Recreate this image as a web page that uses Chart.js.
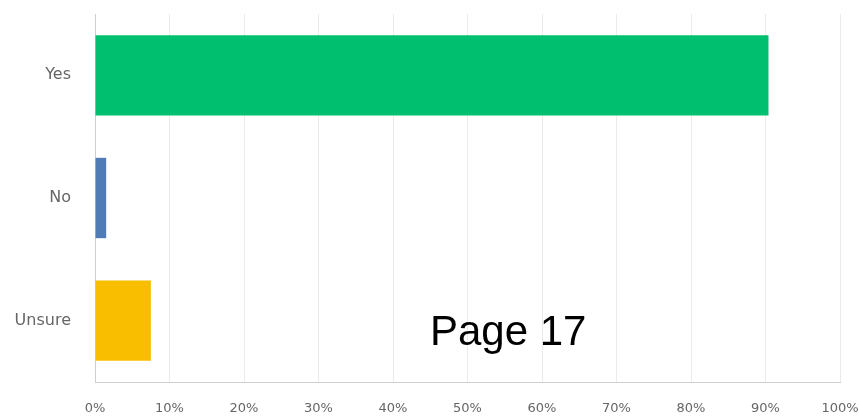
<!DOCTYPE html>
<html>
<head>
<meta charset="utf-8">
<script src="https://cdn.jsdelivr.net/npm/chart.js@4/dist/chart.umd.min.js"></script>
<style>
  html, body { margin: 0; padding: 0; background: #fff; }
  #wrap { width: 859px; height: 416px; }
</style>
</head>
<body>
<div id="wrap"><canvas id="barChart" width="859" height="416"></canvas></div>
<script>
// answers and share of respondents (%)
const categories = ['Yes', 'No', 'Unsure']
const percents = [90.4, 1.5, 7.5]
const barColors = ['#00bf6f', '#507cb6', '#f9be00']
const xTickStep = 10

// the "Page 17" stamp on top of the chart
const pageStamp = {
    id: 'pageStamp',
    afterDraw: (chart) => {
        const ctx = chart.ctx
        ctx.save()
        ctx.font = '42px "Liberation Sans", Arial, sans-serif'
        ctx.fillStyle = '#000'
        ctx.textBaseline = 'alphabetic'
        ctx.fillText('Page 17', 430, 345)
        ctx.restore()
    }
}

const ctx = document.getElementById('barChart').getContext('2d')
const myChart = new Chart(ctx, {
    type: 'bar',
    data: {
        labels: categories,
        datasets: [{
            data: percents,
            backgroundColor: barColors,
            borderWidth: 0,
            categoryPercentage: 1,
            barPercentage: 0.655
        }]
    },
    options: {
        indexAxis: 'y',
        responsive: false,
        animation: false,
        layout: { padding: { top: 14, right: 0, left: 0, bottom: 0 } },
        plugins: {
            legend: { display: false },
            tooltip: { enabled: false }
        },
        scales: {
            x: {
                min: 0,
                max: 100,
                ticks: {
                    stepSize: xTickStep,
                    padding: 19,
                    color: '#666',
                    font: { family: 'DejaVu Sans', size: 13 },
                    callback: (v) => v + '%'
                },
                grid: { color: '#ebebeb', drawTicks: false },
                border: { color: '#cfcfcf' },
                afterFit: (scale) => {
                    scale.height = 34
                    scale.paddingRight = 19
                }
            },
            y: {
                ticks: {
                    padding: 0,
                    color: '#666',
                    font: { family: 'DejaVu Sans', size: 16 }
                },
                // invisible tick marks push the labels away from the axis
                grid: {
                    drawOnChartArea: false,
                    drawTicks: true,
                    tickLength: 24,
                    tickColor: 'rgba(0,0,0,0)'
                },
                border: { color: '#cfcfcf' },
                afterFit: (scale) => { scale.width = 95 }
            }
        }
    },
    plugins: [pageStamp]
})
</script>
</body>
</html>
